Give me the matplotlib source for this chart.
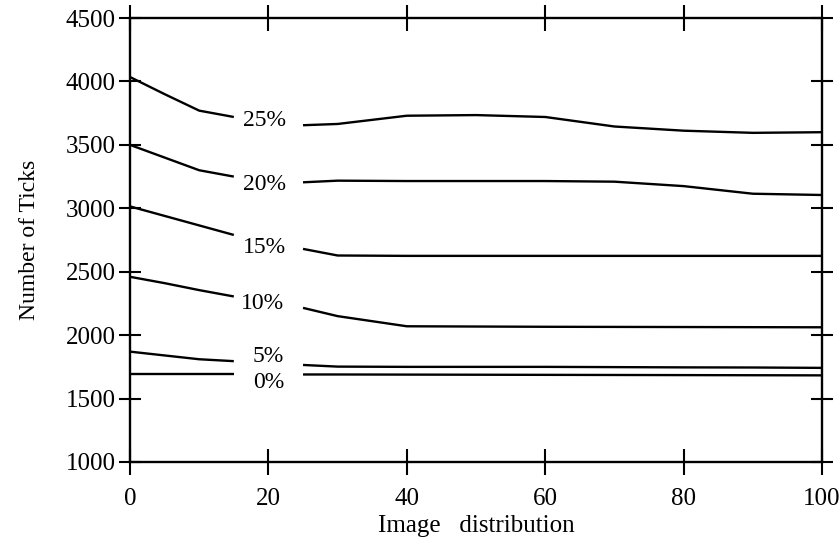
import numpy as np
import matplotlib
matplotlib.use("Agg")
import matplotlib.pyplot as plt

plt.rcParams["font.family"] = ["Liberation Serif", "DejaVu Serif"]

# Image distribution (%) sample points; the curves break around x = 20 for the labels
x_left = [0, 5, 10, 15]
x_right = [25, 30, 40, 50, 60, 70, 80, 90, 100]

labels = ["25%", "20%", "15%", "10%", "5%", "0%"]

p25_left = [4035, 3900, 3770, 3720]
p25_right = [3655, 3665, 3730, 3735, 3720, 3645, 3612, 3595, 3600]

p20_left = [3500, 3400, 3300, 3250]
p20_right = [3205, 3218, 3215, 3215, 3215, 3210, 3175, 3115, 3105]

p15_left = [3015, 2940, 2865, 2790]
p15_right = [2680, 2628, 2625, 2625, 2625, 2625, 2625, 2625, 2625]

p10_left = [2460, 2410, 2355, 2305]
p10_right = [2215, 2150, 2070, 2068, 2066, 2065, 2064, 2063, 2062]

p5_left = [1870, 1840, 1810, 1795]
p5_right = [1765, 1752, 1750, 1750, 1750, 1748, 1746, 1745, 1742]

p0_left = [1690, 1690, 1690, 1690]
p0_right = [1690, 1690, 1689, 1688, 1687, 1686, 1685, 1684, 1683]

# where each percentage label sits (x, y in data units)
label_x = [19.5, 19.5, 19.5, 19.2, 20.0, 20.0]
label_y = [3690, 3190, 2690, 2250, 1830, 1630]

series = [
    (p25_left, p25_right),
    (p20_left, p20_right),
    (p15_left, p15_right),
    (p10_left, p10_right),
    (p5_left, p5_right),
    (p0_left, p0_right),
]

fig = plt.figure(figsize=(8.4, 5.47), dpi=100)
ax = fig.add_axes([0.1548, 0.1554, 0.8238, 0.8116])

for (left, right), lab, lx, ly in zip(series, labels, label_x, label_y):
    ax.plot(x_left, left, color="black", lw=1.7, solid_capstyle="butt")
    ax.plot(x_right, right, color="black", lw=1.7, solid_capstyle="butt")
    ax.text(lx, ly, lab, ha="center", va="center", fontsize=17)

ax.set_xlim(0, 100)
ax.set_ylim(1000, 4500)
ax.set_xticks([0, 20, 40, 60, 80, 100])
ax.set_yticks([1000, 1500, 2000, 2500, 3000, 3500, 4000, 4500])

for s in ax.spines.values():
    s.set_linewidth(1.7)

ax.tick_params(axis="both", direction="inout", width=1.5, labelsize=18,
               top=True, right=True, labeltop=False, labelright=False)
ax.tick_params(axis="x", length=19, pad=9)
ax.tick_params(axis="y", length=16, pad=2.5)

ax.set_xlabel("Image   distribution", fontsize=18, labelpad=4)
ax.set_ylabel("Number of Ticks", fontsize=17, labelpad=18)

fig.savefig("out.png", dpi=100)
